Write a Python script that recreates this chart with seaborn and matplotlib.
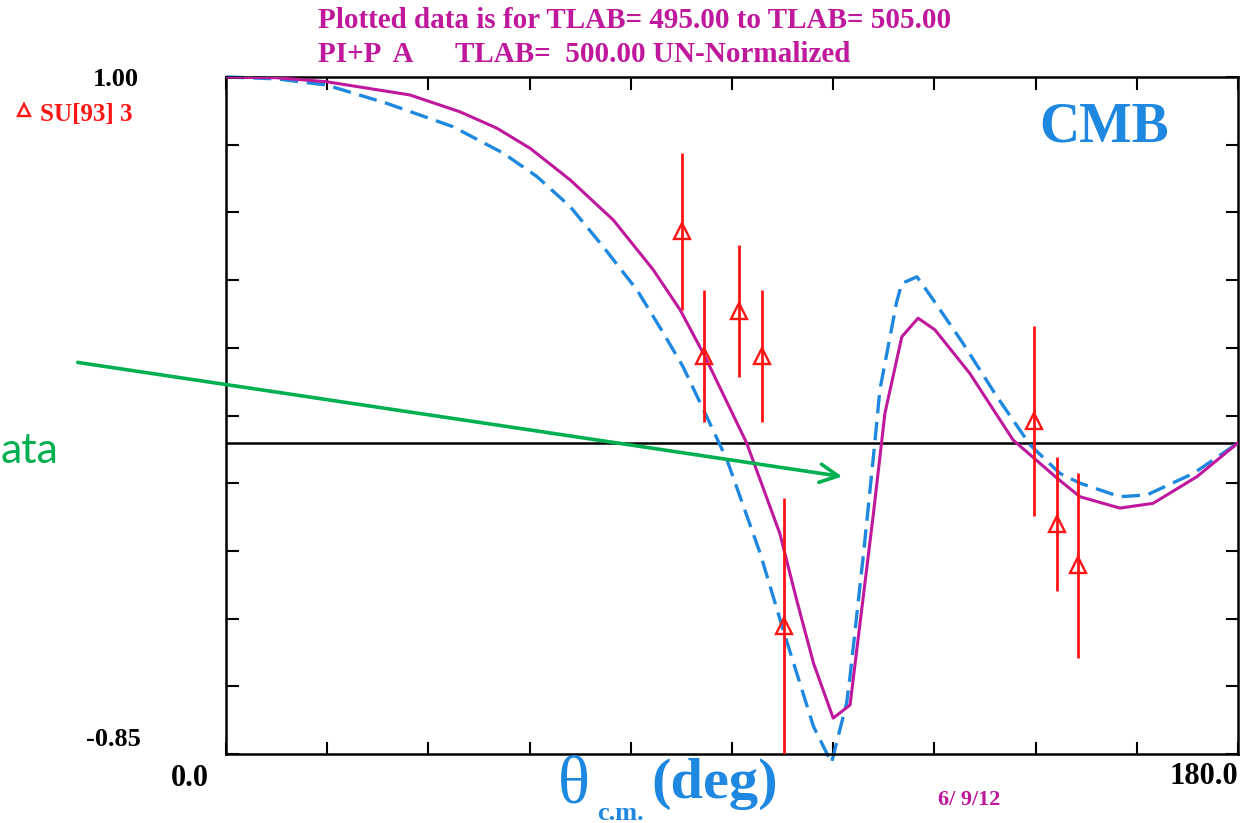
import numpy as np
import matplotlib
matplotlib.use('Agg')
import matplotlib.pyplot as plt
from matplotlib.lines import Line2D
import seaborn as sns

# model curve (solid, magenta)
THETA_MODEL = [0.0, 9.0, 17.9, 32.7, 41.6, 48.2, 54.1, 61.2, 68.9, 76.0, 80.8, 85.2,
               92.6, 98.5, 101.5, 104.5, 108.0, 111.0, 115.1, 117.2, 120.2, 123.1,
               126.1, 132.3, 140.0, 147.8, 151.9, 159.0, 164.9, 172.7, 180.0]
A_MODEL = [1.0, 0.998, 0.987, 0.951, 0.905, 0.860, 0.805, 0.719, 0.609, 0.473, 0.363, 0.236,
           0.0, -0.247, -0.429, -0.602, -0.752, -0.716, -0.20, 0.081, 0.290, 0.341,
           0.309, 0.190, 0.008, -0.096, -0.147, -0.178, -0.165, -0.092, 0.0]

# CMB curve (dashed, blue)
THETA_CMB = [0.0, 9.0, 17.9, 28.6, 40.4, 49.3, 55.3, 61.2, 67.1, 73.1, 77.8, 81.3,
             85.5, 89.1, 95.0, 99.1, 104.5, 107.7, 110.4, 111.0, 113.4, 115.4, 116.3,
             119.3, 120.2, 122.9, 125.8, 131.1, 137.1, 143.0, 148.3, 151.9, 159.0,
             163.8, 172.1, 180.0]
A_CMB = [1.0, 0.995, 0.978, 0.928, 0.864, 0.792, 0.728, 0.646, 0.536, 0.418, 0.300, 0.208,
         0.072, -0.046, -0.301, -0.511, -0.775, -0.874, -0.710, -0.638, -0.301, 0.0, 0.145,
         0.386, 0.436, 0.454, 0.391, 0.272, 0.127, -0.005, -0.083, -0.110, -0.147,
         -0.142, -0.083, 0.0]

# SU[93] data
THETA_DATA = [81.1, 85.0, 91.2, 95.3, 99.3, 143.7, 147.8, 151.5]
A_DATA = [0.578, 0.238, 0.360, 0.238, -0.500, 0.060, -0.222, -0.334]
ERR_DATA = [0.215, 0.180, 0.180, 0.180, 0.350, 0.260, 0.183, 0.253]

XTICKS = np.arange(0, 181, 18)
YTICKS = [-0.85 + 0.185 * k for k in range(11)]

MAGENTA = '#C0189C'
BLUE = '#1E88E0'
RED = '#FF1414'
GREEN = '#00B050'
SERIF = ['Liberation Serif', 'DejaVu Serif']

W, H = 1256, 823

sns.set_theme(style='ticks')
plt.rcParams['font.family'] = SERIF

fig = plt.figure(figsize=(W / 100, H / 100), dpi=100)
ax = fig.add_axes([226 / W, 1 - 754 / H, 1012 / W, 677 / H])


def ftext(x, y, s, **kw):
    # place text at pixel position (origin top-left)
    return fig.text(x / W, 1 - y / H, s, **kw)


ax.axhline(0, color='black', lw=1.8, zorder=1)
sns.lineplot(x=THETA_MODEL, y=A_MODEL, sort=False, estimator=None, ax=ax,
             color=MAGENTA, lw=2.2, zorder=3)
sns.lineplot(x=THETA_CMB, y=A_CMB, sort=False, estimator=None, ax=ax,
             color=BLUE, lw=2.4, linestyle=(0, (5.5, 2.6)), zorder=2, clip_on=False)
ax.errorbar(THETA_DATA, A_DATA, yerr=ERR_DATA, fmt='^', ms=11.5, mfc='none', mec=RED,
            mew=1.7, ecolor=RED, elinewidth=2.0, capsize=0, zorder=4)

ax.set_xlim(0, 180)
ax.set_ylim(-0.85, 1.0)
ax.set_xticks(XTICKS)
ax.set_yticks(YTICKS)
ax.set_xticklabels([])
ax.set_yticklabels([])
ax.tick_params(direction='in', length=9, width=1.5, color='black',
               top=True, right=True)
for sp in ax.spines.values():
    sp.set_color('black')
    sp.set_linewidth(1.8)

# titles
ftext(318, 21, 'Plotted data is for TLAB= 495.00 to TLAB= 505.00', color=MAGENTA,
      fontsize=21, fontweight='bold', va='center')
ftext(318, 54, 'PI+P  A      TLAB=  500.00 UN-Normalized', color=MAGENTA,
      fontsize=21, fontweight='bold', va='center')

# end tick labels
ftext(139, 80, '1.00', fontsize=19, fontweight='bold', ha='right', va='center', color='black')
ftext(141, 740, '-0.85', fontsize=19, fontweight='bold', ha='right', va='center', color='black')
ftext(190, 778, '0.0', fontsize=22, fontweight='bold', ha='center', va='center', color='black')
ftext(1238, 777, '180.0', fontsize=22, fontweight='bold', ha='right', va='center', color='black')

# legend entry
fig.add_artist(Line2D([24 / W], [1 - 110 / H], marker='^', ms=8, mfc='none', mec=RED,
                      mew=1.7, transform=fig.transFigure))
ftext(40, 115, 'SU[93] 3', fontsize=18, fontweight='bold', color=RED, va='center')

# labels
ftext(1104, 127, 'CMB', fontsize=40, fontweight='bold', color=BLUE, ha='center', va='center')
ftext(574, 786, 'θ', fontsize=48, color=BLUE, ha='center', va='center')
ftext(597, 813, 'c.m.', fontsize=19, fontweight='bold', color=BLUE, va='center')
ftext(651, 784, '(deg)', fontsize=42, fontweight='bold', color=BLUE, va='center')
ftext(938, 800, '6/ 9/12', fontsize=16, fontweight='bold', color=MAGENTA, va='center')

# annotation arrow and the label piece visible at the left edge
ax.annotate('', xy=(845, H - 477), xycoords='figure pixels',
            xytext=(75, H - 362), textcoords='figure pixels',
            arrowprops=dict(arrowstyle='->,head_length=1.1,head_width=0.55',
                            color=GREEN, lw=2.6), annotation_clip=False)
ftext(1, 463, 'ata', fontsize=31, color=GREEN, ha='left', va='baseline',
      family=['Lato', 'DejaVu Sans'])

fig.savefig('out.png', dpi=100)
